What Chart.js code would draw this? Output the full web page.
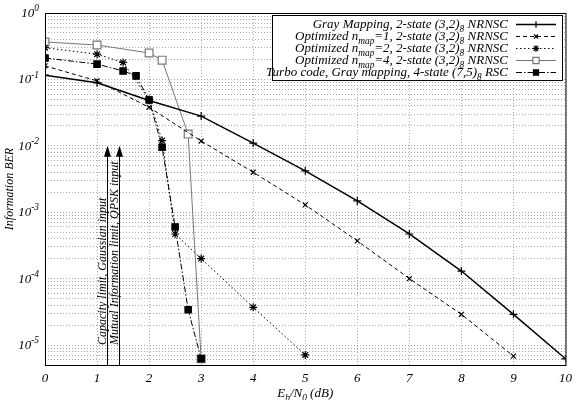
<!DOCTYPE html>
<html>
<head>
<meta charset="utf-8">
<script src="https://cdn.jsdelivr.net/npm/chart.js@4/dist/chart.umd.min.js"></script>
<style>
  html, body { margin: 0; padding: 0; background: #fff; }
  #wrap { width: 578px; height: 400px; position: relative; }
</style>
</head>
<body>
<div id="wrap"><canvas id="berChart"></canvas></div>
<script>
// Eb/N0 points (dB) and information BER for each curve
const ebn0Gray  = [0, 1, 2, 3, 4, 5, 6, 7, 8, 9, 10];
const berGray   = [0.116, 0.089, 0.048, 0.028, 0.011, 0.0042, 0.00148, 0.00047, 0.00013, 0.000029, 0.0000062];

const ebn0Map1  = [0, 1, 2, 3, 4, 5, 6, 7, 8, 9];
const berMap1   = [0.16, 0.095, 0.038, 0.0118, 0.0040, 0.00129, 0.00037, 0.0001, 0.000029, 0.0000068];

const ebn0Map2  = [0, 1, 1.5, 2, 2.25, 2.5, 3, 4, 5];
const berMap2   = [0.30, 0.24, 0.18, 0.05, 0.012, 0.00047, 0.0002, 0.000037, 0.0000071];

const ebn0Map4  = [0, 1, 2, 2.25, 2.75, 3];
const berMap4   = [0.366, 0.33, 0.25, 0.195, 0.015, 0.0000062];

const ebn0Turbo = [0, 1, 1.5, 1.75, 2, 2.25, 2.5, 2.75, 3];
const berTurbo  = [0.21, 0.17, 0.134, 0.113, 0.049, 0.0095, 0.0006, 0.000034, 0.0000062];

const seriesNames = [
  'Gray Mapping, 2-state (3,2)_{8} NRNSC',
  'Optimized n_{map}=1, 2-state (3,2)_{8} NRNSC',
  'Optimized n_{map}=2, 2-state (3,2)_{8} NRNSC',
  'Optimized n_{map}=4, 2-state (3,2)_{8} NRNSC',
  'Turbo code, Gray mapping, 4-state (7,5)_{8} RSC'
];

// x ticks and y decade labels
const xTicks = [0, 1, 2, 3, 4, 5, 6, 7, 8, 9, 10];
const yDecades = [0, -1, -2, -3, -4, -5];

// vertical limit arrows
const limitEbn0 = [1.2, 1.43];
const limitLabels = ['Capacity limit, Gaussian input', 'Mutual Information limit, QPSK input'];
const limitTop = 0.01;

const serif = '"Liberation Serif", "DejaVu Serif", serif';

function pts(xs, ys) {
  return xs.map((x, i) => ({ x: x, y: ys[i] }));
}

// text with _{sub} / ^{sup} markup
function richParts(str) {
  const parts = [];
  const re = /([_^])\{([^}]*)\}/g;
  let last = 0, m;
  while ((m = re.exec(str)) !== null) {
    if (m.index > last) parts.push({ t: str.slice(last, m.index), k: '' });
    parts.push({ t: m[2], k: m[1] });
    last = re.lastIndex;
  }
  if (last < str.length) parts.push({ t: str.slice(last), k: '' });
  return parts;
}
function richWidth(ctx, str, size) {
  let w = 0;
  richParts(str).forEach(p => {
    ctx.font = 'italic ' + (p.k ? size * 0.72 : size) + 'px ' + serif;
    w += ctx.measureText(p.t).width;
  });
  return w;
}
function drawRich(ctx, str, x, y, size, align) {
  const w = richWidth(ctx, str, size);
  let cx = align === 'right' ? x - w : (align === 'center' ? x - w / 2 : x);
  ctx.textBaseline = 'alphabetic';
  ctx.textAlign = 'left';
  richParts(str).forEach(p => {
    const s = p.k ? size * 0.72 : size;
    ctx.font = 'italic ' + s + 'px ' + serif;
    let dy = 0;
    if (p.k === '_') dy = size * 0.3;
    if (p.k === '^') dy = -size * 0.45;
    ctx.fillText(p.t, cx, y + dy);
    cx += ctx.measureText(p.t).width;
  });
}

// order: lower is drawn on top (turbo squares stay visible at 3 dB)
const lineStyles = [
  { color: '#000', width: 1.5, dash: [],             point: 'cross',    fill: '#000', r: 4,   order: 1 },
  { color: '#000', width: 1,   dash: [4, 3],         point: 'crossRot', fill: '#000', r: 3.5, order: 2 },
  { color: '#000', width: 1,   dash: [1.5, 2.5],     point: 'star',     fill: '#000', r: 4,   order: 3 },
  { color: '#777', width: 1,   dash: [],             point: 'rect',     fill: '#fff', r: 5.5, order: 4 },
  { color: '#000', width: 1,   dash: [6, 2, 1.5, 2], point: 'rect',     fill: '#000', r: 4.5, order: 0 }
];

const seriesData = [
  pts(ebn0Gray, berGray),
  pts(ebn0Map1, berMap1),
  pts(ebn0Map2, berMap2),
  pts(ebn0Map4, berMap4),
  pts(ebn0Turbo, berTurbo)
];

const datasets = seriesData.map((d, i) => ({
  label: seriesNames[i],
  data: d,
  order: lineStyles[i].order,
  borderColor: lineStyles[i].color,
  borderWidth: lineStyles[i].width,
  borderDash: lineStyles[i].dash,
  pointStyle: lineStyles[i].point,
  pointRadius: lineStyles[i].r,
  pointBorderColor: lineStyles[i].color,
  pointBackgroundColor: lineStyles[i].fill,
  pointBorderWidth: 1.2,
  fill: false,
  tension: 0
}));

// frame, decade labels, axis titles, arrows and legend box
const decorPlugin = {
  id: 'decor',
  afterDraw(chart) {
    const ctx = chart.ctx;
    const a = chart.chartArea;
    const xs = chart.scales.x, ys = chart.scales.y;
    ctx.save();

    // frame
    ctx.strokeStyle = '#000';
    ctx.lineWidth = 1;
    ctx.setLineDash([]);
    ctx.strokeRect(a.left + 0.5, a.top + 0.5, a.right - a.left, a.bottom - a.top);

    // y decade labels
    ctx.fillStyle = '#000';
    yDecades.forEach(e => {
      const y = ys.getPixelForValue(Math.pow(10, e));
      drawRich(ctx, '10^{' + (e === 0 ? '0' : e) + '}', a.left - 6, y + 4, 13, 'right');
    });

    // axis titles
    ctx.save();
    ctx.translate(9, (a.top + a.bottom) / 2);
    ctx.rotate(-Math.PI / 2);
    drawRich(ctx, 'Information BER', 0, 4, 12, 'center');
    ctx.restore();
    drawRich(ctx, 'E_{b}/N_{0} (dB)', (a.left + a.right) / 2, 397, 13, 'center');

    // limit arrows
    const yTip = ys.getPixelForValue(limitTop);
    limitEbn0.forEach((v, i) => {
      const x = Math.round(xs.getPixelForValue(v)) + 0.5;
      ctx.strokeStyle = '#000';
      ctx.fillStyle = '#000';
      ctx.lineWidth = 1;
      ctx.beginPath();
      ctx.moveTo(x, a.bottom);
      ctx.lineTo(x, yTip + 8);
      ctx.stroke();
      ctx.beginPath();
      ctx.moveTo(x, yTip);
      ctx.lineTo(x - 3.5, yTip + 11);
      ctx.lineTo(x + 3.5, yTip + 11);
      ctx.closePath();
      ctx.fill();
      ctx.save();
      ctx.translate(x - 2, a.bottom - 20);
      ctx.rotate(-Math.PI / 2);
      drawRich(ctx, limitLabels[i], 0, 0, 12, 'left');
      ctx.restore();
    });

    // legend
    const bx = 272, by = 15, bw = 290, bh = 65;
    ctx.fillStyle = '#fff';
    ctx.fillRect(bx, by, bw, bh);
    ctx.strokeStyle = '#000';
    ctx.lineWidth = 1;
    ctx.strokeRect(bx + 0.5, by + 0.5, bw, bh);
    const rowY = [24, 36, 48, 60, 72];
    seriesNames.forEach((name, i) => {
      const st = lineStyles[i];
      const yy = rowY[i] + 0.5;
      ctx.fillStyle = '#000';
      drawRich(ctx, name, 508, rowY[i] + 4, 13, 'right');
      ctx.strokeStyle = st.color;
      ctx.lineWidth = st.width;
      ctx.setLineDash(st.dash);
      ctx.beginPath();
      ctx.moveTo(516, yy);
      ctx.lineTo(556, yy);
      ctx.stroke();
      ctx.setLineDash([]);
      ctx.fillStyle = st.fill;
      ctx.strokeStyle = st.color;
      ctx.lineWidth = 1.2;
      Chart.helpers.drawPoint(ctx, { pointStyle: st.point, radius: st.r * 0.8, borderWidth: 1.2, rotation: 0 }, 536, yy);
    });

    ctx.restore();
  }
};

document.addEventListener('DOMContentLoaded', function() {
  const canvas = document.getElementById('berChart');
  new Chart(canvas, {
    type: 'line',
    data: { datasets: datasets },
    options: {
      responsive: true,
      maintainAspectRatio: false,
      animation: false,
      layout: { padding: { top: 13, right: 8, left: 0, bottom: 0 } },
      plugins: {
        legend: { display: false },
        tooltip: { enabled: false }
      },
      scales: {
        x: {
          type: 'linear',
          min: 0,
          max: 10,
          afterBuildTicks: axis => { axis.ticks = xTicks.map(v => ({ value: v })); },
          afterFit: axis => { axis.height = 35; },
          grid: { color: '#aaa', lineWidth: 1, drawTicks: false },
          border: { display: false, dash: [1, 2] },
          ticks: {
            color: '#000',
            padding: 6,
            font: { family: serif, style: 'italic', size: 13 }
          }
        },
        y: {
          type: 'logarithmic',
          min: 0.000005,
          max: 1,
          afterBuildTicks: axis => {
            const t = [];
            for (let e = -6; e <= 0; e++) {
              for (let m = 1; m <= 9; m++) {
                const v = m * Math.pow(10, e);
                if (v >= 0.000005 * 0.999 && v <= 1.0001) t.push({ value: v });
              }
            }
            axis.ticks = t;
          },
          afterFit: axis => { axis.width = 45; },
          grid: { color: '#aaa', lineWidth: 1, drawTicks: false },
          border: { display: false, dash: [1, 2] },
          ticks: { display: false }
        }
      }
    },
    plugins: [decorPlugin]
  });
});
</script>
</body>
</html>
